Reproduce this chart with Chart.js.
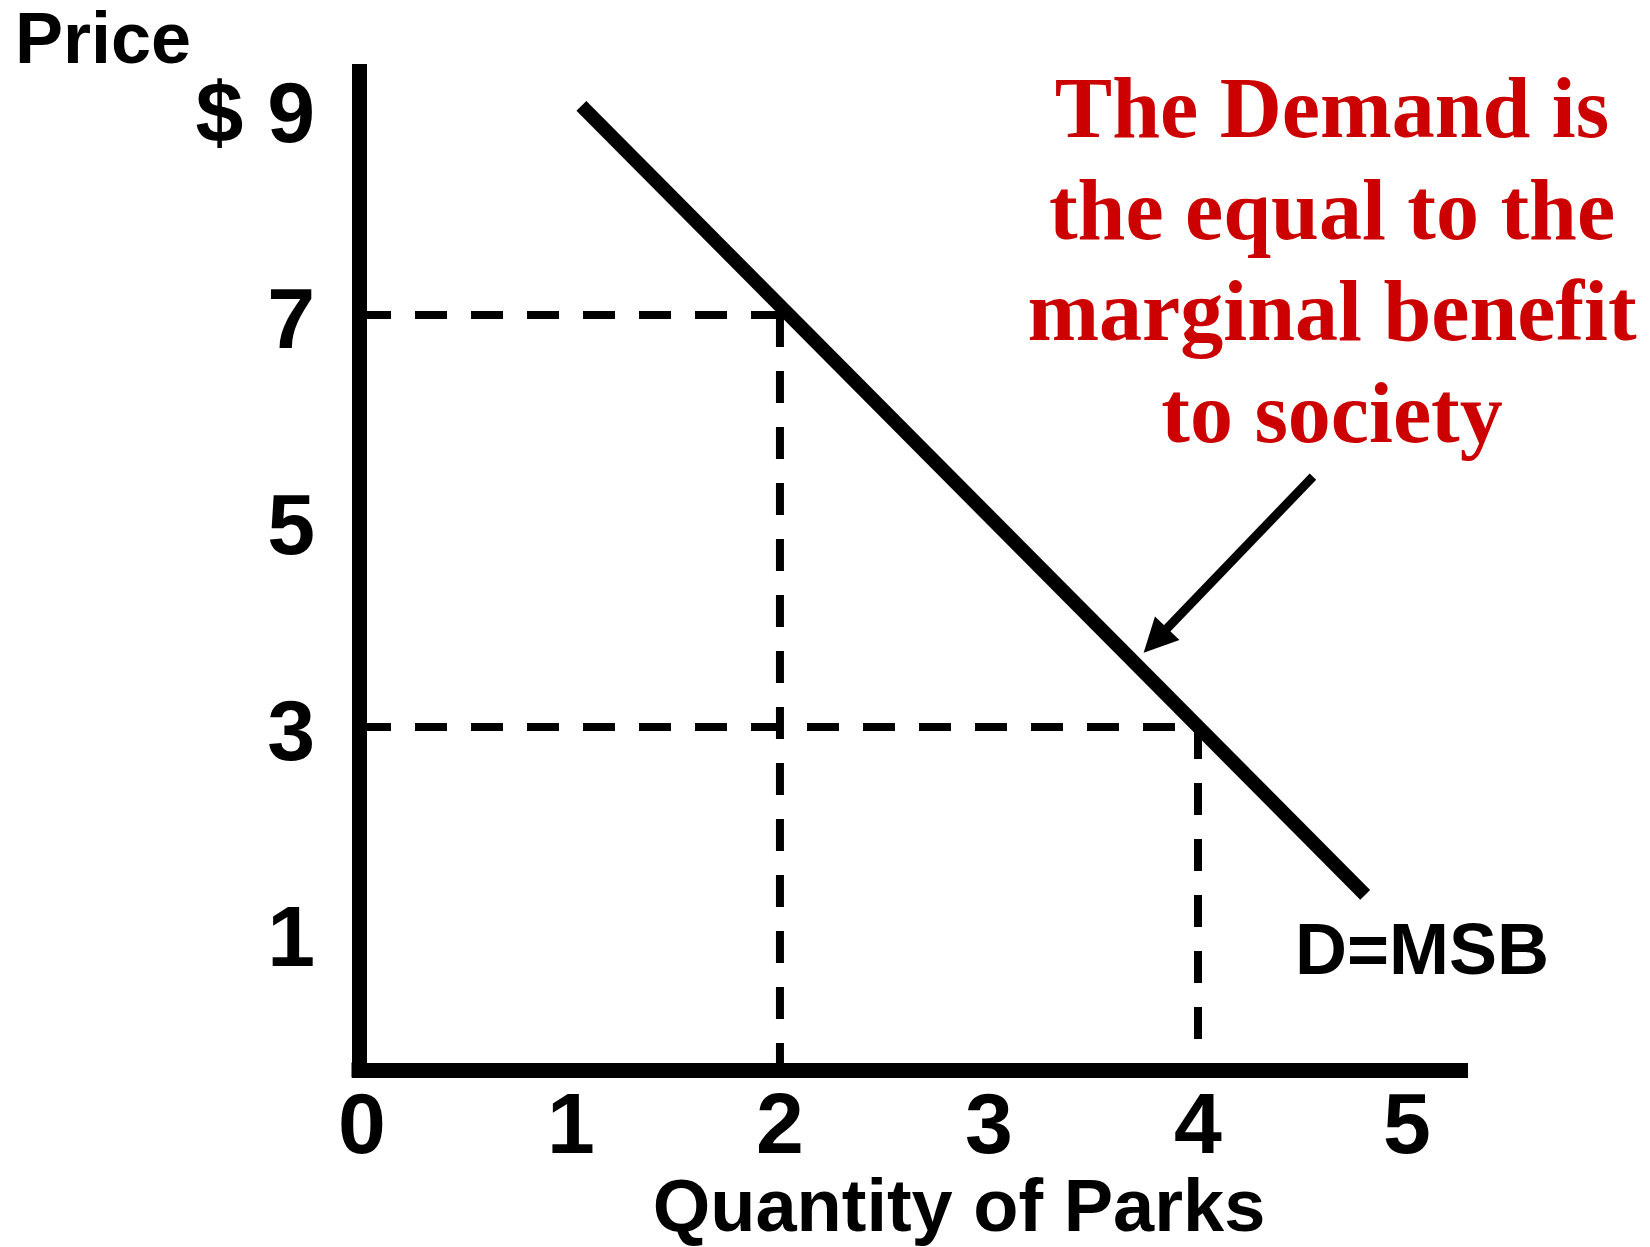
<!DOCTYPE html>
<html>
<head>
<meta charset="utf-8">
<script src="https://cdn.jsdelivr.net/npm/chart.js@4/dist/chart.umd.min.js"></script>
<style>
  html, body { margin: 0; padding: 0; background: #fff; }
  #wrap { width: 1650px; height: 1247px; position: relative; }
</style>
</head>
<body>
<div id="wrap"><canvas id="chart"></canvas></div>
<script>
const xTicks = [0, 1, 2, 3, 4, 5];
const yTicks = [1, 3, 5, 7, 9];
const xRange = [-0.014, 5.287];
const yRange = [-0.33, 9.364];

// D = MSB line
const demandQty = [1.05, 4.8];
const demandPrice = [9.03, 1.37];

// dashed guides: quantity / price pairs, and where each drop line stops
const markQty = [2, 4];
const markPrice = [7, 3];
const dropTo = [-0.33, -0.1];

// arrow pointing at the curve
const arrowFrom = [4.55, 5.43];
const arrowTo = [3.74, 3.72];

const noteLines = ['The Demand is', 'the equal to the', 'marginal benefit', 'to society'];

const SANS = '"Liberation Sans", Arial, sans-serif';
const SERIF = '"Liberation Serif", "Times New Roman", serif';

const datasets = [{
  data: demandQty.map((q, i) => ({ x: q, y: demandPrice[i] })),
  borderColor: '#000',
  borderWidth: 14
}];

markQty.forEach((q, i) => {
  datasets.push({
    data: [{ x: xRange[0], y: markPrice[i] }, { x: q, y: markPrice[i] }],
    borderColor: '#000',
    borderWidth: 8,
    borderDash: [32, 24]
  });
  datasets.push({
    data: [{ x: q, y: markPrice[i] }, { x: q, y: dropTo[i] }],
    borderColor: '#000',
    borderWidth: 8,
    borderDash: [32, 24]
  });
});

const overlay = {
  id: 'overlay',
  afterDraw(chart) {
    const { ctx, chartArea } = chart;
    const sx = chart.scales.x, sy = chart.scales.y;
    ctx.save();
    ctx.fillStyle = '#000';
    ctx.strokeStyle = '#000';

    // square off the axis corner
    ctx.fillRect(chartArea.left - 7.5, chartArea.bottom - 7.5, 15, 15);

    // arrow
    const x1 = sx.getPixelForValue(arrowFrom[0]), y1 = sy.getPixelForValue(arrowFrom[1]);
    const x2 = sx.getPixelForValue(arrowTo[0]), y2 = sy.getPixelForValue(arrowTo[1]);
    const a = Math.atan2(y2 - y1, x2 - x1);
    const len = 34, half = 17;
    const bx = x2 - Math.cos(a) * len, by = y2 - Math.sin(a) * len;
    ctx.lineWidth = 9;
    ctx.setLineDash([]);
    ctx.beginPath();
    ctx.moveTo(x1, y1);
    ctx.lineTo(bx + Math.cos(a) * 4, by + Math.sin(a) * 4);
    ctx.stroke();
    ctx.beginPath();
    ctx.moveTo(x2, y2);
    ctx.lineTo(bx - Math.sin(a) * half, by + Math.cos(a) * half);
    ctx.lineTo(bx + Math.sin(a) * half, by - Math.cos(a) * half);
    ctx.closePath();
    ctx.fill();

    // labels
    ctx.textBaseline = 'alphabetic';
    ctx.font = 'bold 72px ' + SANS;
    ctx.textAlign = 'left';
    ctx.fillText('Price', 15, 63);
    ctx.fillText('D=MSB', 1295, 974);
    ctx.font = 'bold 74px ' + SANS;
    ctx.textAlign = 'center';
    ctx.fillText('Quantity of Parks', 959, 1231);

    ctx.fillStyle = '#CC0000';
    ctx.font = 'bold 86px ' + SERIF;
    const base = [137, 239, 340, 442];
    noteLines.forEach((t, i) => ctx.fillText(t, 1332, base[i]));
    ctx.restore();
  }
};

new Chart(document.getElementById('chart'), {
  type: 'scatter',
  data: { datasets: datasets },
  options: {
    responsive: true,
    maintainAspectRatio: false,
    animation: false,
    showLine: true,
    elements: {
      point: { radius: 0, hoverRadius: 0 },
      line: { tension: 0, fill: false }
    },
    layout: { padding: { top: 71.5, right: 183, left: 0, bottom: 0 } },
    plugins: { legend: { display: false }, tooltip: { enabled: false } },
    scales: {
      x: {
        type: 'linear',
        min: xRange[0],
        max: xRange[1],
        afterBuildTicks: axis => { axis.ticks = xTicks.map(v => ({ value: v })); },
        afterFit: axis => {
          axis.height = 177;
          axis.paddingLeft = 0;
          axis.paddingRight = 0;
        },
        grid: { display: false, drawTicks: false },
        border: { display: true, color: '#000', width: 15 },
        ticks: {
          color: '#000',
          padding: 8,
          maxRotation: 0,
          autoSkip: false,
          font: { family: SANS, size: 86, weight: 'bold', lineHeight: 1.2 }
        }
      },
      y: {
        type: 'linear',
        min: yRange[0],
        max: yRange[1],
        afterBuildTicks: axis => { axis.ticks = yTicks.map(v => ({ value: v })); },
        afterFit: axis => {
          axis.width = 359;
          axis.paddingTop = 0;
          axis.paddingBottom = 0;
        },
        grid: { display: false, drawTicks: false },
        border: { display: true, color: '#000', width: 15 },
        ticks: {
          color: '#000',
          padding: 44,
          labelOffset: 9,
          autoSkip: false,
          font: { family: SANS, size: 86, weight: 'bold' },
          callback: v => (v === 9 ? '$ 9' : String(v))
        }
      }
    }
  },
  plugins: [overlay]
});
</script>
</body>
</html>
